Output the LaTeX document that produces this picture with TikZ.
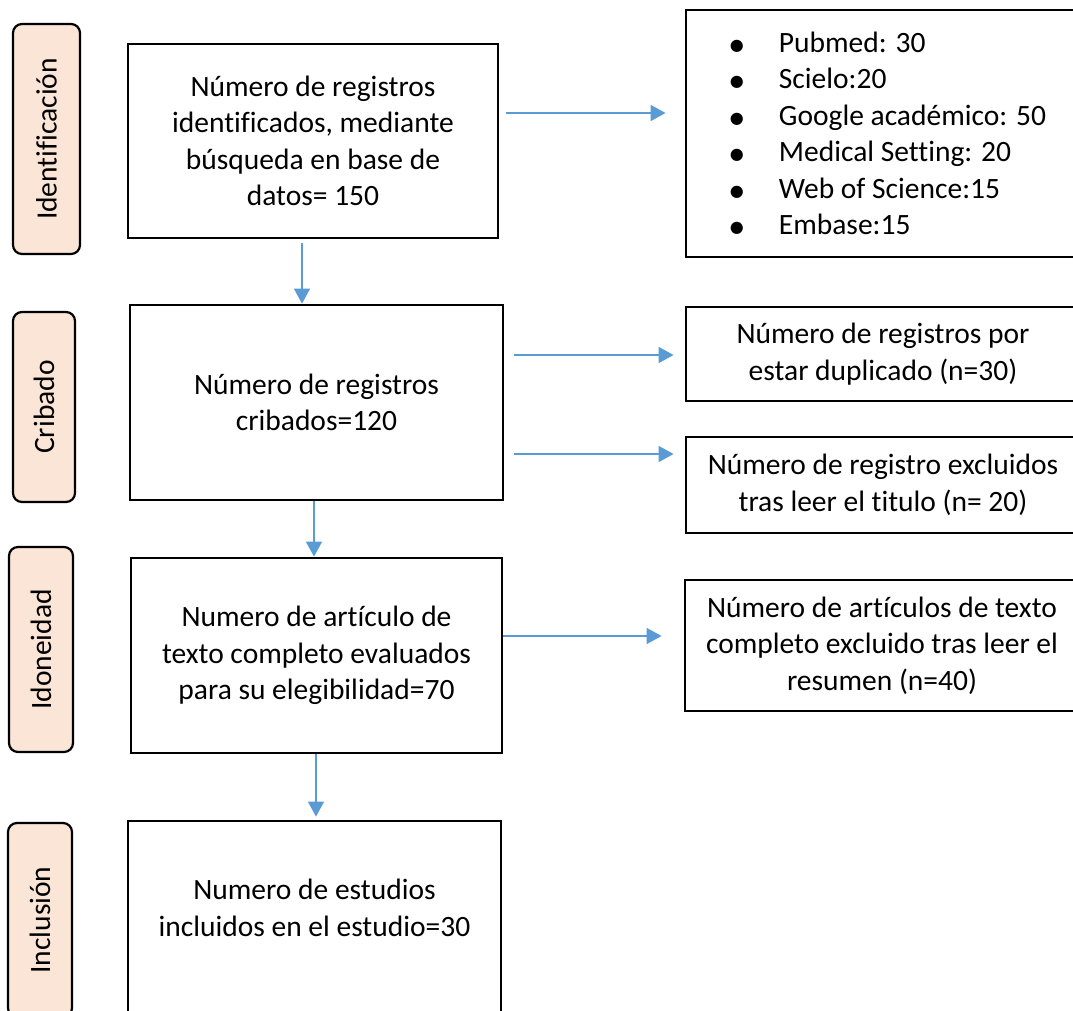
\documentclass[tikz,border=0pt]{standalone}
\usepackage{fontspec}
\setmainfont{Carlito}[Ligatures=NoCommon]
\newfontfamily\symfont{DejaVu Sans}
\usetikzlibrary{arrows.meta}

\definecolor{peach}{HTML}{FBE5D6}
\definecolor{arrblue}{HTML}{5B9BD5}
\newcommand{\itm}{\makebox[49pt][l]{\raisebox{2pt}{\symfont\fontsize{16}{16}\selectfont ●}}}

\begin{document}
\begin{tikzpicture}[x=1pt, y=-1pt,
    every node/.style={font=\fontsize{29.5}{36.5}\selectfont},
    box/.style={draw, line width=2.8pt, align=center, inner sep=0pt},
    side/.style={draw, line width=2.2pt, rounded corners=9pt, fill=peach, inner sep=0pt, rotate=90},
    arr/.style={draw=arrblue, line width=1.5pt, -{Triangle[length=15pt,width=16pt]}}]
    \useasboundingbox (0,0) rectangle (1073,1010);
    \clip (0,0) rectangle (1073,1010);

    % stages on the left
    \node[side, minimum width=230pt, minimum height=67pt] (s1) at (46.5,139) {Identificación};
    \node[side, minimum width=190pt, minimum height=62pt] (s2) at (44,407) {Cribado};
    \node[side, minimum width=205pt, minimum height=64pt] (s3) at (41,649.5) {Idoneidad};
    \node[side, minimum width=194pt, minimum height=64pt] (s4) at (40,920) {Inclusión};

    % main column
    \node[box, minimum width=370pt, minimum height=194pt] (b1) at (313,141)
        {Número de registros\\identificados, mediante\\búsqueda en base de\\datos= 150};
    \node[box, minimum width=373pt, minimum height=195pt] (b2) at (316.5,402.5)
        {Número de registros\\cribados=120};
    \node[box, minimum width=371pt, minimum height=195pt] (b3) at (316.5,655.5)
        {Numero de artículo de\\texto completo evaluados\\para su elegibilidad=70};
    \node[box, minimum width=373pt, minimum height=210pt] (b4) at (314.5,926)
        {Numero de estudios\\incluidos en el estudio=30\\ \mbox{}};

    % boxes on the right
    \node[box, align=left, minimum width=404pt, minimum height=247pt] (r1) at (888,133.5)
        {\itm Pubmed: 30\\
         \itm Scielo:20\\
         \itm Google académico: 50\\
         \itm Medical Setting: 20\\
         \itm Web of Science:15\\
         \itm Embase:15};
    \node[box, minimum width=394pt, minimum height=94pt] (r2) at (883,354)
        {Número de registros por\\estar duplicado (n=30)};
    \node[box, minimum width=394pt, minimum height=96pt] (r3) at (883,485)
        {Número de registro excluidos\\tras leer el titulo (n= 20)};
    \node[box, minimum width=394pt, minimum height=131pt] (r4) at (882,645.5)
        {Número de artículos de texto\\completo excluido tras leer el\\resumen (n=40)};

    % arrows
    \draw[arr, shorten <=7pt, shorten >=19pt] (b1.east |- 0,113) -- (r1.west |- 0,113);
    \draw[arr, shorten <=10pt, shorten >=11pt] (b2.east |- 0,355) -- (r2.west |- 0,355);
    \draw[arr, shorten <=10pt, shorten >=11pt] (b2.east |- 0,454) -- (r3.west |- 0,454);
    \draw[arr, shorten >=22pt] (b3.east |- 0,636) -- (r4.west |- 0,636);
    \draw[arr, shorten <=4pt] (b1.south -| 302,0) -- (b2.north -| 302,0);
    \draw[arr] (b2.south -| 314,0) -- (b3.north -| 314,0);
    \draw[arr, shorten >=3pt] (b3.south -| 316,0) -- (b4.north -| 316,0);
\end{tikzpicture}
\end{document}
